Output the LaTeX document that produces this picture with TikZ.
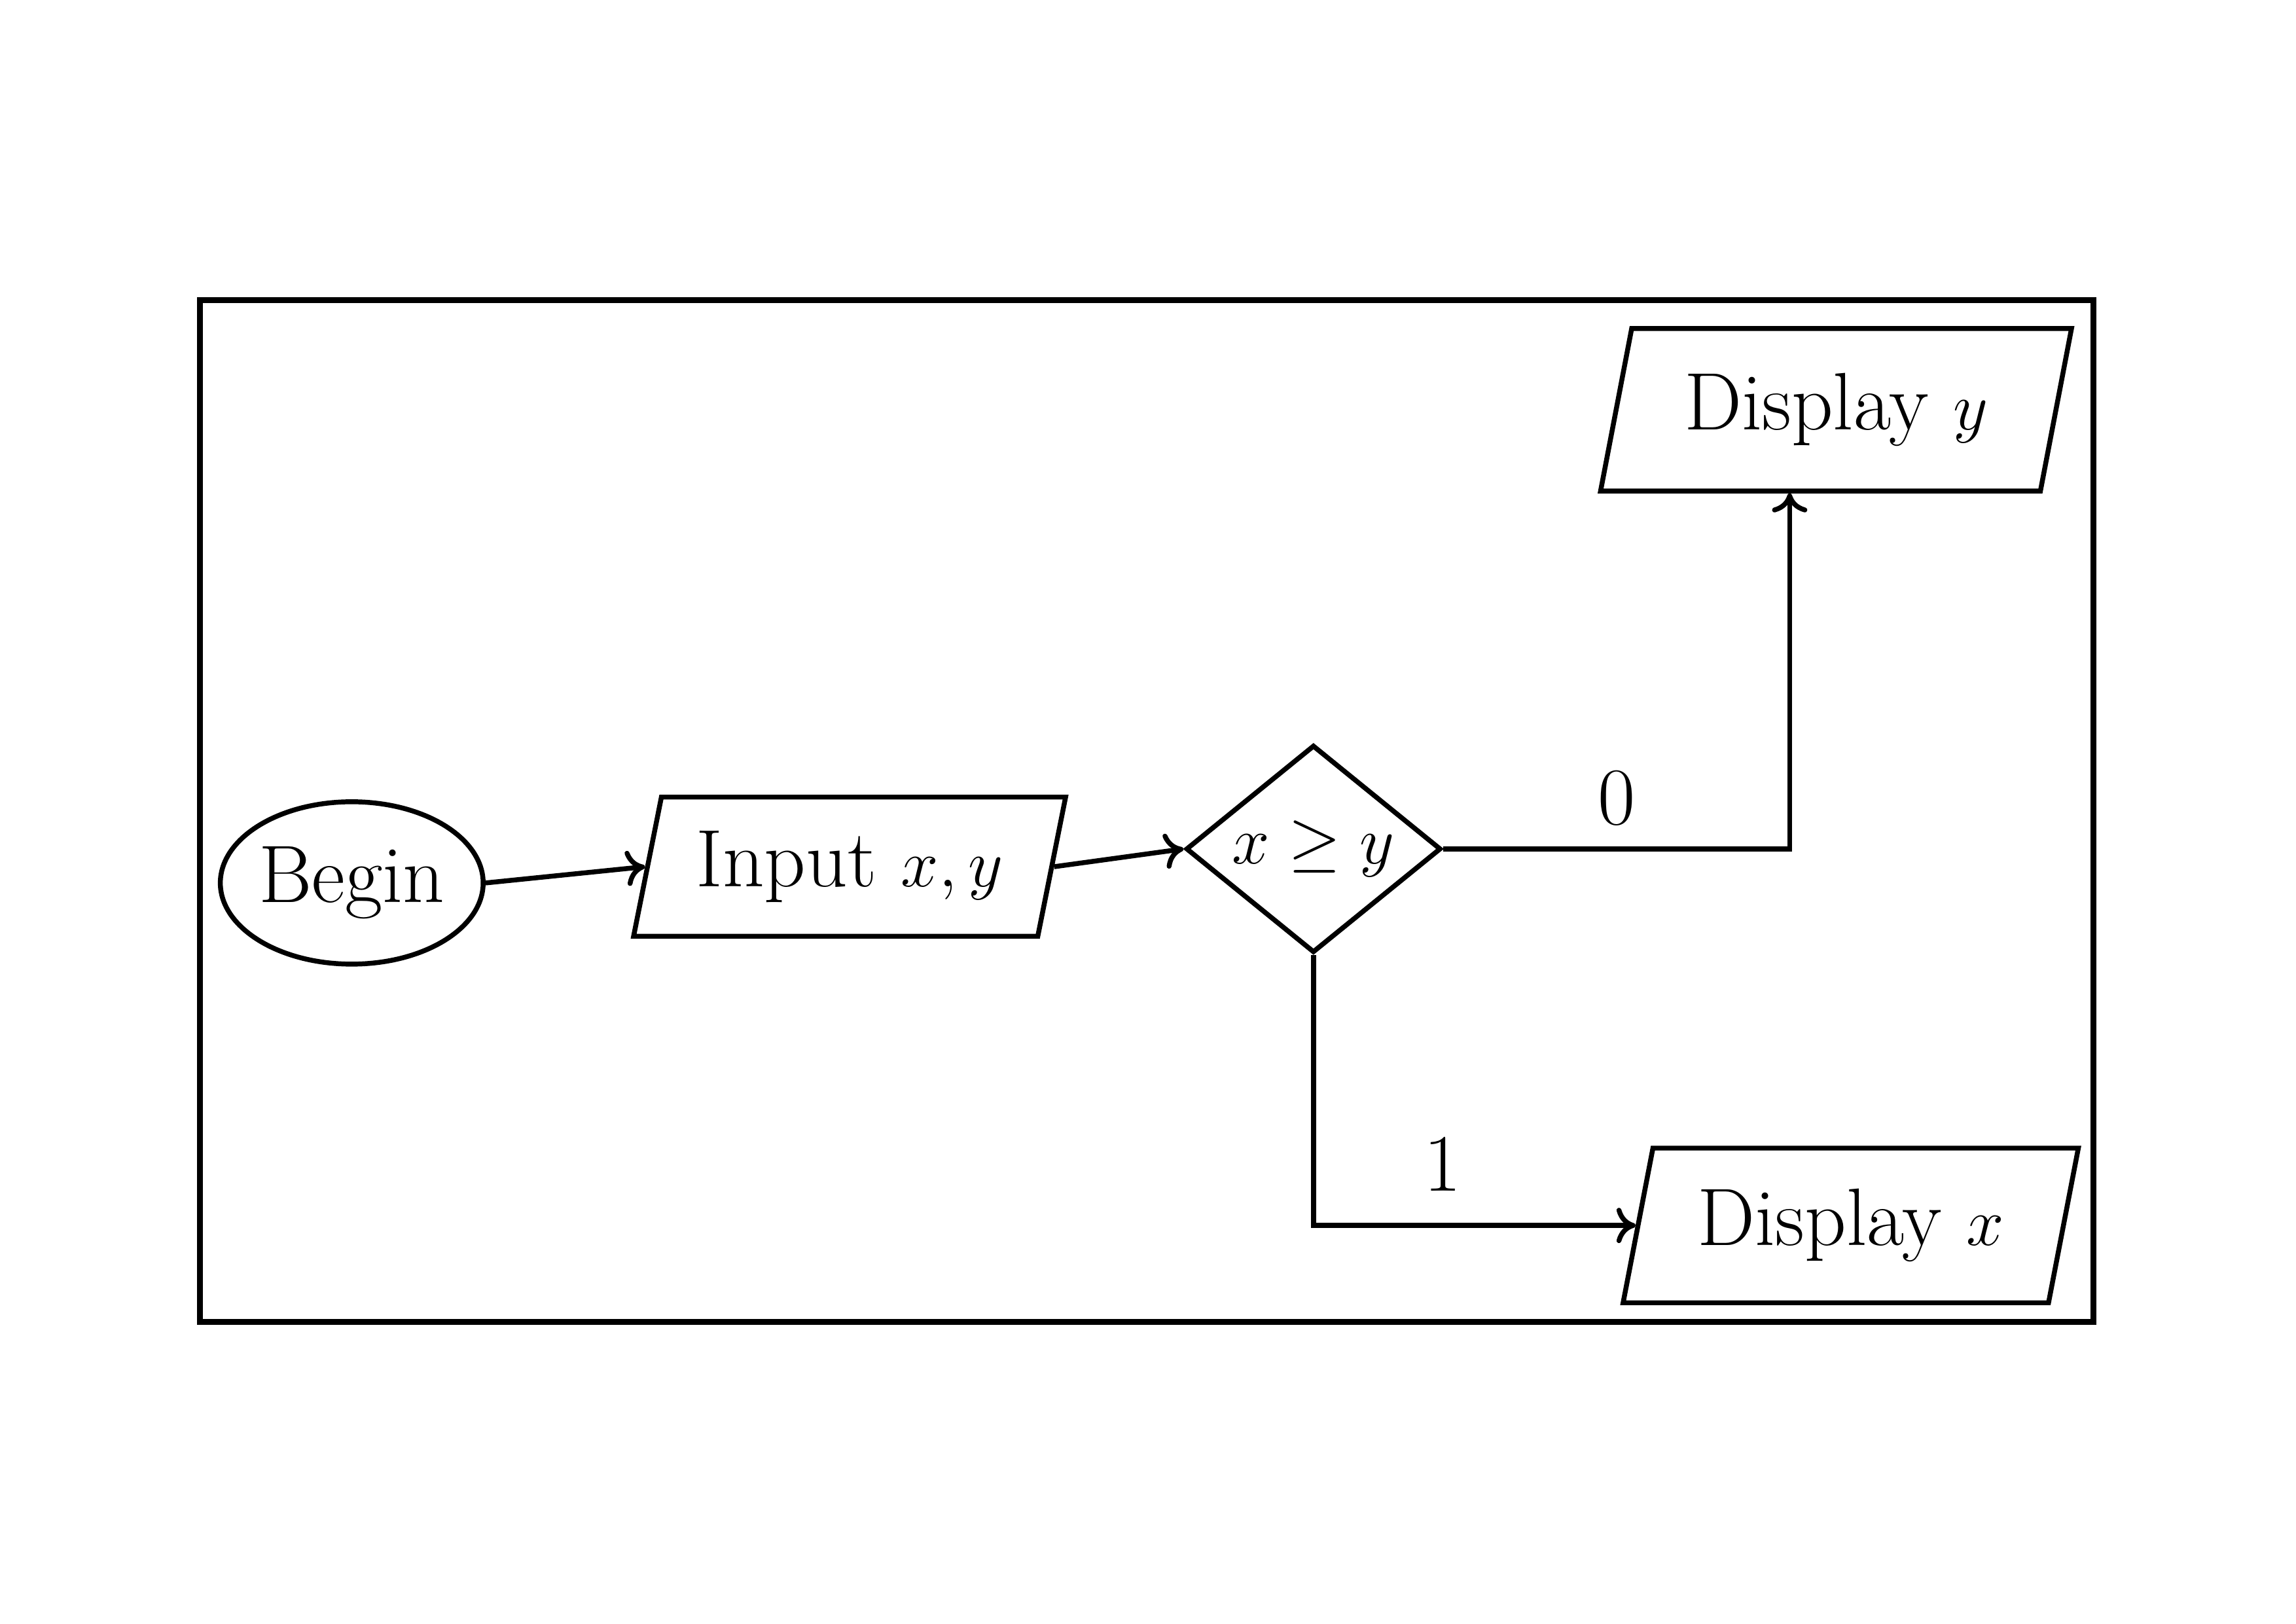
\documentclass[tikz,border=0pt]{standalone}
\usepackage{amsmath, amssymb}
\usepackage{xcolor}
\usepackage{tikz}
\usetikzlibrary{shapes.geometric, arrows, arrows.meta, positioning, calc}

\begin{document}
\begin{tikzpicture}[node distance=6cm, font=\fontsize{30}{36}\selectfont]
\tikzstyle{startstop} = [ellipse, minimum width=3.4cm, minimum height=2.1cm, inner sep=0pt, text centered, draw=black, line width=1.8pt]
\tikzstyle{io} = [trapezium, trapezium left angle=75, trapezium right angle=105, trapezium stretches=true, minimum width=5.6cm, minimum height=1.8cm, text centered, draw=black, line width=1.8pt]
\tikzstyle{decision} = [diamond, aspect=1.15, minimum width=3.3cm, inner sep=1pt, text centered, draw=black, line width=1.8pt]
\tikzstyle{arrow} = [line width=1.8pt,->,>={To[length=7pt,width=13pt]}]
\tikzstyle{frame} = [draw=black, line width=2.2pt]

\useasboundingbox (0,0) rectangle (29.7,21);

% Outer frame
\draw [frame] (2.59,3.90) rectangle (27.08,17.12);

% Flow
\node (begin) [startstop] at (4.55,9.58) {Begin};
\node (input) [io, right of=begin, xshift=0.44cm, yshift=0.21cm] {Input $x,y$};
\node (test) [decision, right of=input, yshift=0.23cm] {$x \geq y$};
\node (showy) [io, right of=test, xshift=0.76cm, yshift=5.68cm, minimum width=6.1cm, minimum height=2.1cm] {Display $y$};
\node (showx) [io, right of=test, xshift=0.95cm, yshift=-4.87cm, minimum width=5.9cm, minimum height=2cm] {Display $x$};

% Connections
\draw [arrow] (begin.east) -- (input.west);
\draw [arrow] (input.east) -- (test.west);
\draw [arrow] (test.east) -| node[pos=0.25, anchor=south, yshift=0.15cm] {0} ([xshift=-0.6cm]showy.south);
\draw [arrow] (test.south) |- node[pos=0.7, anchor=south, yshift=0.3cm] {1} (showx.west);

\end{tikzpicture}
\end{document}
